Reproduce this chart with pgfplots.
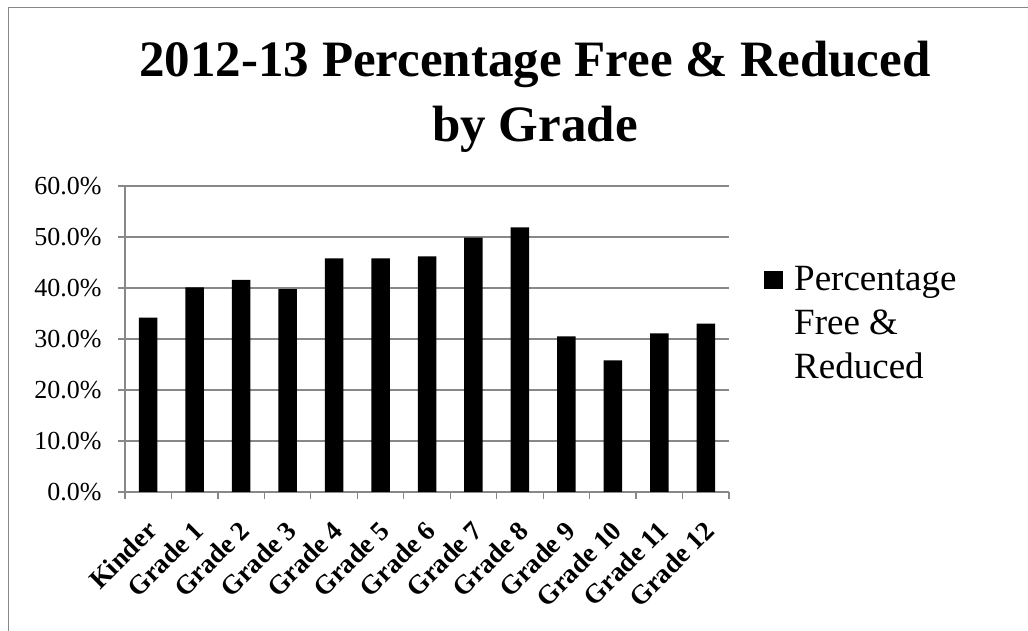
\documentclass[border=0pt]{standalone}
\usepackage{fontspec}
\setmainfont{Liberation Serif}
\usepackage{pgfplots}
\pgfplotsset{compat=1.18}
\definecolor{axgray}{RGB}{136,136,136}
\begin{document}
\begin{tikzpicture}[x=1pt,y=1pt]
\useasboundingbox (0,0) rectangle (1028,631);
\draw[axgray, line width=1.6pt] (8.5,-20) -- (8.5,623.5) -- (1050,623.5);
\node[anchor=base, inner sep=0pt, font=\fontsize{51}{60}\selectfont\bfseries] at (535,554) {2012-13 Percentage Free \& Reduced};
\node[anchor=base, inner sep=0pt, font=\fontsize{51}{60}\selectfont\bfseries] at (535,489) {by Grade};
\begin{axis}[
  at={(125pt,139pt)}, anchor=south west,
  scale only axis, width=604pt, height=306pt,
  /pgf/number format/assume math mode=true,
  ymin=0, ymax=60, ytick={0,10,...,60},
  yticklabel={\pgfmathprintnumber[fixed,fixed zerofill,precision=1]{\tick}\%},
  yticklabel style={font=\fontsize{26}{30}\selectfont, xshift=-13pt},
  xmin=-0.5, xmax=12.5,
  xtick={-0.5,0.5,...,12.5},
  xticklabels={},
  extra x ticks={0,1,2,3,4,5,6,7,8,9,10,11,12},
  extra x tick labels={Kinder,Grade 1,Grade 2,Grade 3,Grade 4,Grade 5,Grade 6,Grade 7,Grade 8,Grade 9,Grade 10,Grade 11,Grade 12},
  extra x tick style={major tick length=0pt, grid=none,
    xticklabel style={xshift=-3pt, yshift=-27pt, rotate=45, anchor=north east, inner sep=0pt, font=\fontsize{27}{30}\selectfont\bfseries}},
  axis lines*=left,
  axis line style={axgray, line width=1.3pt},
  ymajorgrids, grid style={axgray, line width=1.3pt},
  tick style={axgray, line width=1.3pt},
  tick align=outside, major tick length=7pt,
  legend style={draw=none, fill=none, at={(1.058,0.765)}, anchor=north west, inner sep=0pt,
    column sep=9pt, cells={anchor=base west}, font=\fontsize{37}{44}\selectfont},
]
\addplot[ybar, fill=black, draw=none, bar width=18.5pt,
  legend image code/.code={\fill[black] (0pt,2pt) rectangle (19pt,20pt);}] coordinates {
(0,34.2) (1,40.1) (2,41.6) (3,39.8) (4,45.8) (5,45.8) (6,46.2)
(7,49.9) (8,51.9) (9,30.5) (10,25.8) (11,31.1) (12,33.0)};
\addlegendentry{\begin{tabular}[t]{@{}l@{}}Percentage\\Free \&\\Reduced\end{tabular}}
\end{axis}
\end{tikzpicture}
\end{document}
